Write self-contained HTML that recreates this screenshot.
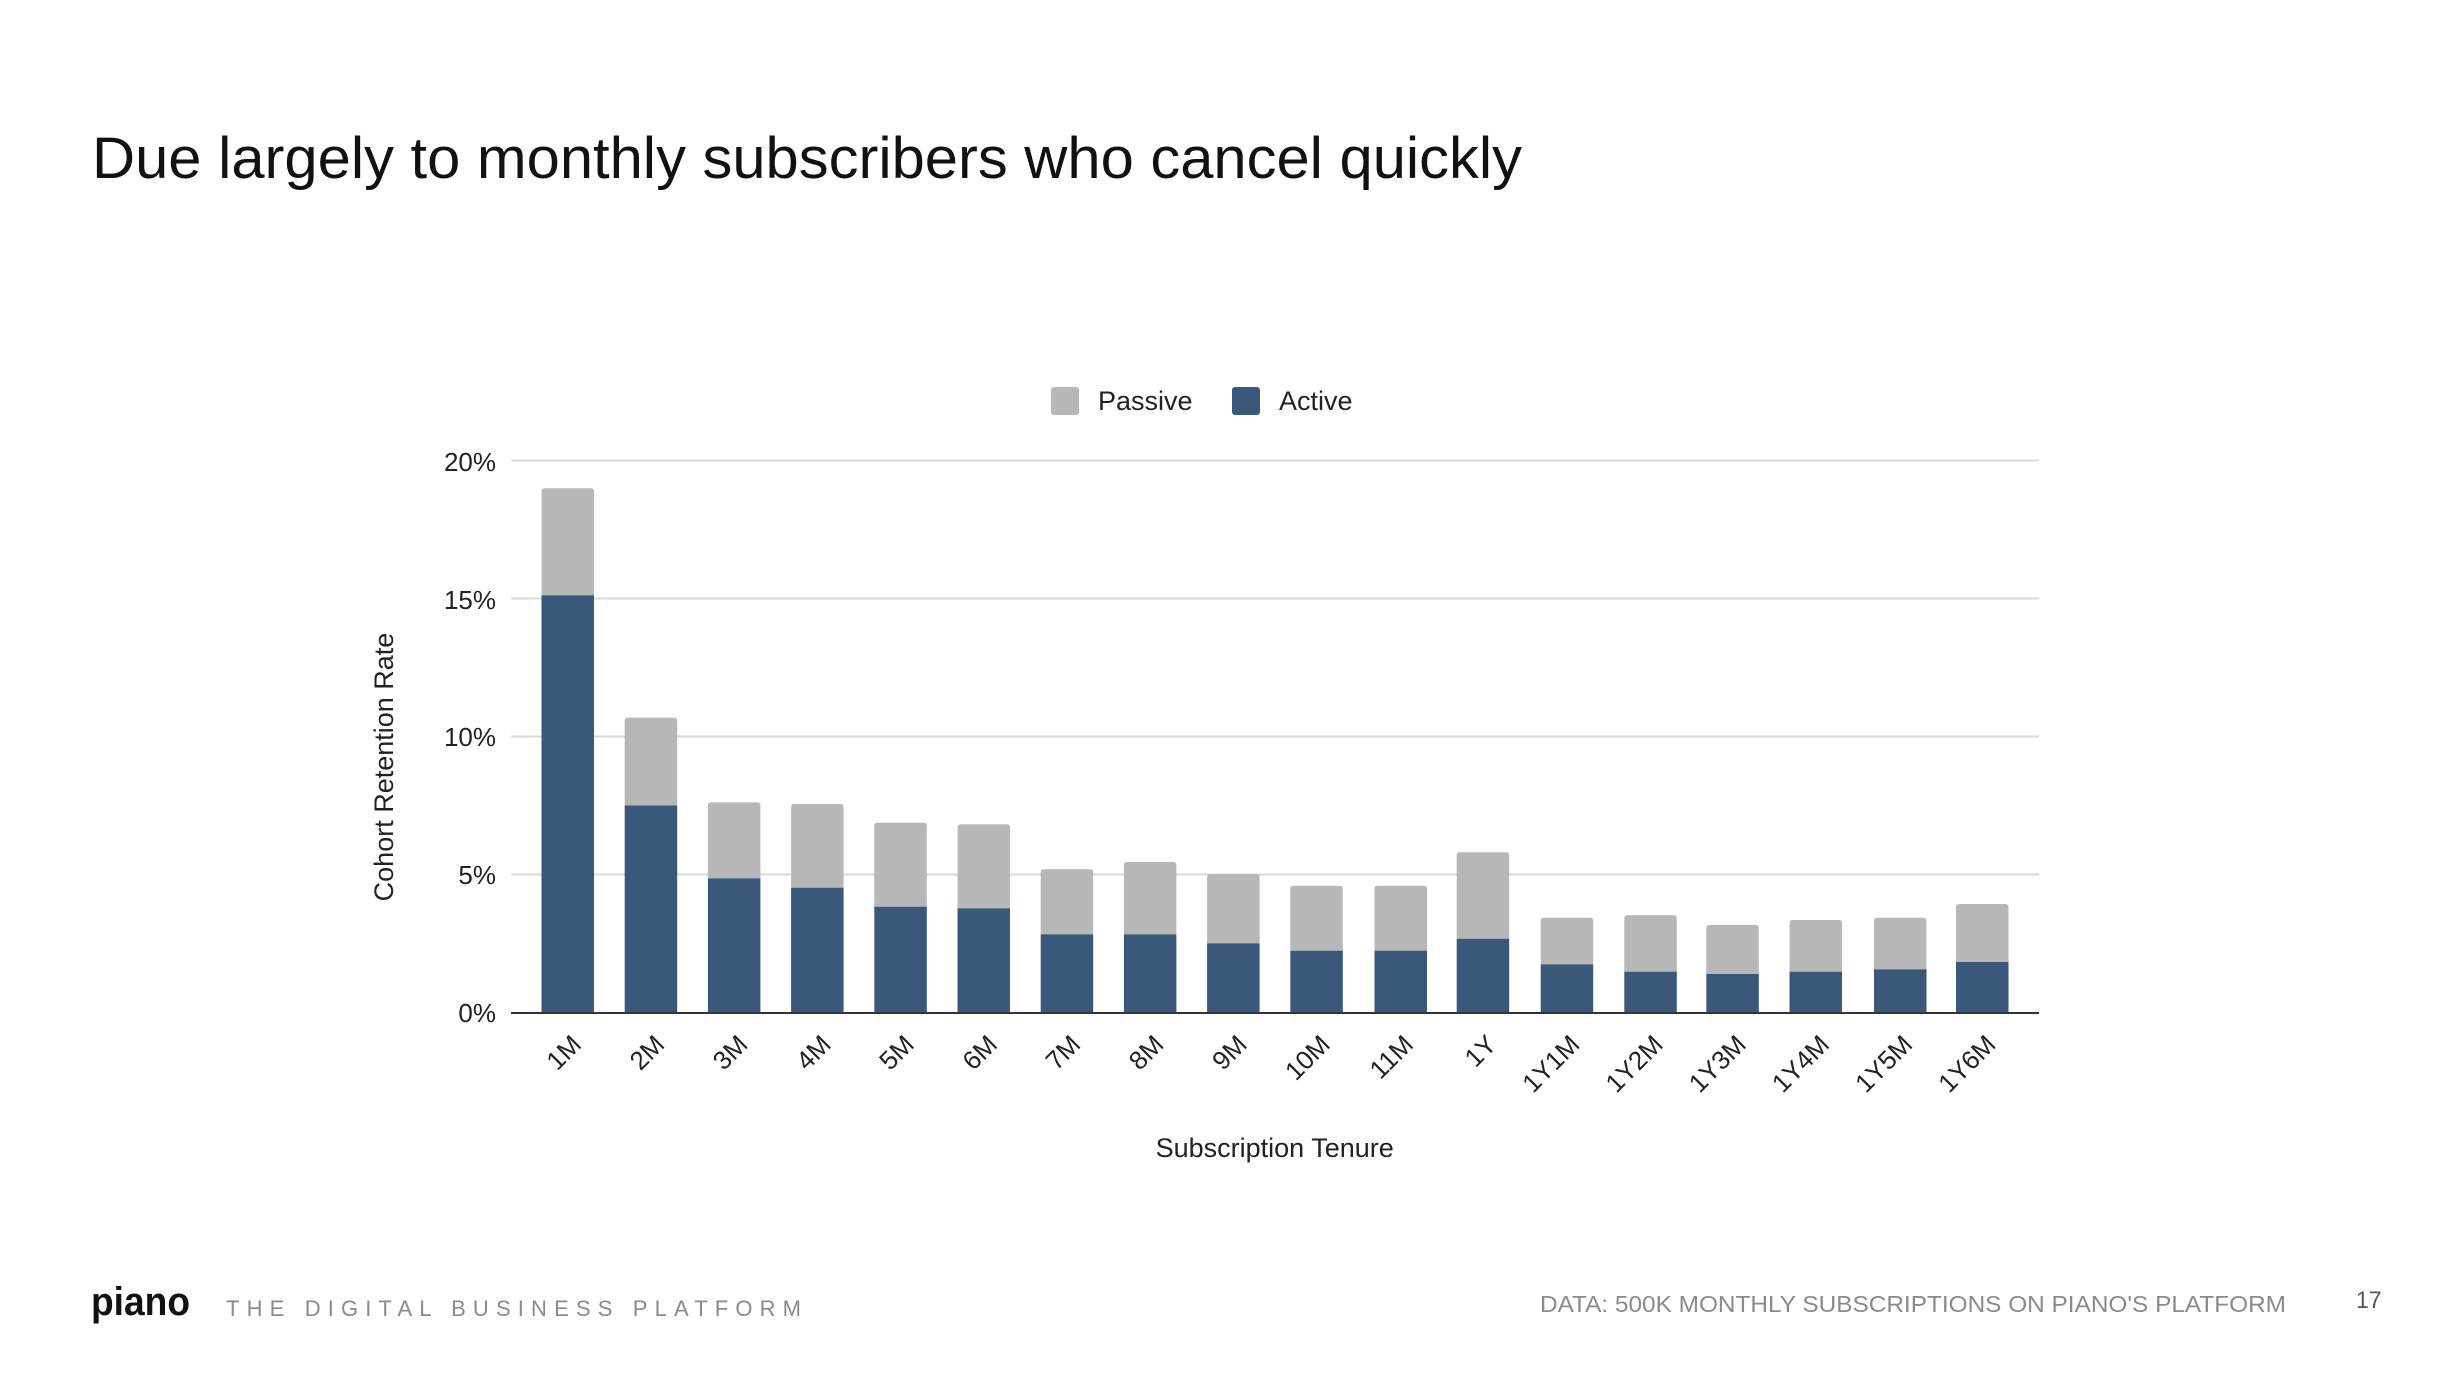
<!DOCTYPE html>
<html>
<head>
<meta charset="utf-8">
<style>
  html, body { margin: 0; padding: 0; background: #ffffff; }
  body { width: 2462px; height: 1378px; overflow: hidden; }
  svg { display: block; }
  text { font-family: "Liberation Sans", Arial, sans-serif; }
</style>
</head>
<body>
<svg width="2462" height="1378" viewBox="0 0 2462 1378" xmlns="http://www.w3.org/2000/svg">
  <rect x="0" y="0" width="2462" height="1378" fill="#ffffff"/>

  <!-- Title -->
  <text x="92" y="178" font-size="58" fill="#111111" textLength="1430" lengthAdjust="spacingAndGlyphs">Due largely to monthly subscribers who cancel quickly</text>

  <!-- Legend -->
  <rect x="1051" y="387" width="28" height="28" rx="3" fill="#b7b7b7"/>
  <text x="1098" y="410" font-size="27" fill="#222222">Passive</text>
  <rect x="1232" y="387" width="28" height="28" rx="3" fill="#3a5879"/>
  <text x="1279" y="410" font-size="27" fill="#222222">Active</text>

  <!-- Gridlines -->
  <g stroke="#d9d9d9" stroke-width="2">
    <line x1="511" y1="460.5" x2="2039" y2="460.5"/>
    <line x1="511" y1="598.5" x2="2039" y2="598.5"/>
    <line x1="511" y1="736.5" x2="2039" y2="736.5"/>
    <line x1="511" y1="874.5" x2="2039" y2="874.5"/>
  </g>

  <!-- Y tick labels -->
  <g font-size="26" fill="#222222" text-anchor="end">
    <text x="496" y="471">20%</text>
    <text x="496" y="609">15%</text>
    <text x="496" y="746">10%</text>
    <text x="496" y="884">5%</text>
    <text x="496" y="1022">0%</text>
  </g>

  <!-- Y axis title -->
  <text transform="translate(393,767) rotate(-90)" font-size="27" fill="#222222" text-anchor="middle">Cohort Retention Rate</text>

  <!-- Bars -->
  <g>
    <path d="M541.5,595.3 V491.3 Q541.5,488.3 544.5,488.3 H591 Q594,488.3 594,491.3 V595.3 Z" fill="#b7b7b7"/>
    <rect x="541.5" y="595.3" width="52.5" height="417.2" fill="#3a5879"/>

    <path d="M624.7,805.5 V720.6 Q624.7,717.6 627.7,717.6 H674.2 Q677.2,717.6 677.2,720.6 V805.5 Z" fill="#b7b7b7"/>
    <rect x="624.7" y="805.5" width="52.5" height="207" fill="#3a5879"/>

    <path d="M707.9,878.3 V805.4 Q707.9,802.4 710.9,802.4 H757.4 Q760.4,802.4 760.4,805.4 V878.3 Z" fill="#b7b7b7"/>
    <rect x="707.9" y="878.3" width="52.5" height="134.2" fill="#3a5879"/>

    <path d="M791.1,887.7 V807 Q791.1,804 794.1,804 H840.6 Q843.6,804 843.6,807 V887.7 Z" fill="#b7b7b7"/>
    <rect x="791.1" y="887.7" width="52.5" height="124.8" fill="#3a5879"/>

    <path d="M874.3,906.7 V825.8 Q874.3,822.8 877.3,822.8 H923.8 Q926.8,822.8 926.8,825.8 V906.7 Z" fill="#b7b7b7"/>
    <rect x="874.3" y="906.7" width="52.5" height="105.8" fill="#3a5879"/>

    <path d="M957.5,908.3 V827.4 Q957.5,824.4 960.5,824.4 H1007 Q1010,824.4 1010,827.4 V908.3 Z" fill="#b7b7b7"/>
    <rect x="957.5" y="908.3" width="52.5" height="104.2" fill="#3a5879"/>

    <path d="M1040.7,934.3 V872.3 Q1040.7,869.3 1043.7,869.3 H1090.2 Q1093.2,869.3 1093.2,872.3 V934.3 Z" fill="#b7b7b7"/>
    <rect x="1040.7" y="934.3" width="52.5" height="78.2" fill="#3a5879"/>

    <path d="M1123.9,934.3 V865 Q1123.9,862 1126.9,862 H1173.4 Q1176.4,862 1176.4,865 V934.3 Z" fill="#b7b7b7"/>
    <rect x="1123.9" y="934.3" width="52.5" height="78.2" fill="#3a5879"/>

    <path d="M1207.1,943.3 V877 Q1207.1,874 1210.1,874 H1256.6 Q1259.6,874 1259.6,877 V943.3 Z" fill="#b7b7b7"/>
    <rect x="1207.1" y="943.3" width="52.5" height="69.2" fill="#3a5879"/>

    <path d="M1290.3,950.7 V888.7 Q1290.3,885.7 1293.3,885.7 H1339.8 Q1342.8,885.7 1342.8,888.7 V950.7 Z" fill="#b7b7b7"/>
    <rect x="1290.3" y="950.7" width="52.5" height="61.8" fill="#3a5879"/>

    <path d="M1374.5,950.7 V888.7 Q1374.5,885.7 1377.5,885.7 H1424 Q1427,885.7 1427,888.7 V950.7 Z" fill="#b7b7b7"/>
    <rect x="1374.5" y="950.7" width="52.5" height="61.8" fill="#3a5879"/>

    <path d="M1456.7,938.7 V855.3 Q1456.7,852.3 1459.7,852.3 H1506.2 Q1509.2,852.3 1509.2,855.3 V938.7 Z" fill="#b7b7b7"/>
    <rect x="1456.7" y="938.7" width="52.5" height="73.8" fill="#3a5879"/>

    <path d="M1540.7,964.3 V920.7 Q1540.7,917.7 1543.7,917.7 H1590.2 Q1593.2,917.7 1593.2,920.7 V964.3 Z" fill="#b7b7b7"/>
    <rect x="1540.7" y="964.3" width="52.5" height="48.2" fill="#3a5879"/>

    <path d="M1624.3,971.7 V918.3 Q1624.3,915.3 1627.3,915.3 H1673.8 Q1676.8,915.3 1676.8,918.3 V971.7 Z" fill="#b7b7b7"/>
    <rect x="1624.3" y="971.7" width="52.5" height="40.8" fill="#3a5879"/>

    <path d="M1706.3,974 V928 Q1706.3,925 1709.3,925 H1755.8 Q1758.8,925 1758.8,928 V974 Z" fill="#b7b7b7"/>
    <rect x="1706.3" y="974" width="52.5" height="38.5" fill="#3a5879"/>

    <path d="M1789.5,971.7 V923 Q1789.5,920 1792.5,920 H1839 Q1842,920 1842,923 V971.7 Z" fill="#b7b7b7"/>
    <rect x="1789.5" y="971.7" width="52.5" height="40.8" fill="#3a5879"/>

    <path d="M1874,969.3 V920.7 Q1874,917.7 1877,917.7 H1923.5 Q1926.5,917.7 1926.5,920.7 V969.3 Z" fill="#b7b7b7"/>
    <rect x="1874" y="969.3" width="52.5" height="43.2" fill="#3a5879"/>

    <path d="M1956,962 V907 Q1956,904 1959,904 H2005.5 Q2008.5,904 2008.5,907 V962 Z" fill="#b7b7b7"/>
    <rect x="1956" y="962" width="52.5" height="50.5" fill="#3a5879"/>
  </g>

  <!-- Baseline axis -->
  <line x1="511" y1="1013" x2="2039" y2="1013" stroke="#333333" stroke-width="2"/>

  <!-- X tick labels (rotated -45) -->
  <g font-size="26" fill="#222222" text-anchor="end">
    <text transform="translate(582.8,1046) rotate(-45)">1M</text>
    <text transform="translate(666.0,1046) rotate(-45)">2M</text>
    <text transform="translate(749.2,1046) rotate(-45)">3M</text>
    <text transform="translate(832.4,1046) rotate(-45)">4M</text>
    <text transform="translate(915.6,1046) rotate(-45)">5M</text>
    <text transform="translate(998.8,1046) rotate(-45)">6M</text>
    <text transform="translate(1082.0,1046) rotate(-45)">7M</text>
    <text transform="translate(1165.2,1046) rotate(-45)">8M</text>
    <text transform="translate(1248.4,1046) rotate(-45)">9M</text>
    <text transform="translate(1331.6,1046) rotate(-45)">10M</text>
    <text transform="translate(1414.8,1046) rotate(-45)">11M</text>
    <text transform="translate(1498.0,1046) rotate(-45)">1Y</text>
    <text transform="translate(1581.2,1046) rotate(-45)">1Y1M</text>
    <text transform="translate(1664.4,1046) rotate(-45)">1Y2M</text>
    <text transform="translate(1747.6,1046) rotate(-45)">1Y3M</text>
    <text transform="translate(1830.8,1046) rotate(-45)">1Y4M</text>
    <text transform="translate(1914.0,1046) rotate(-45)">1Y5M</text>
    <text transform="translate(1997.2,1046) rotate(-45)">1Y6M</text>
  </g>

  <!-- X axis title -->
  <text x="1274.7" y="1157" font-size="27" fill="#222222" text-anchor="middle">Subscription Tenure</text>

  <!-- Footer -->
  <text x="91" y="1315" font-size="40" font-weight="bold" fill="#111111" textLength="99" lengthAdjust="spacingAndGlyphs">piano</text>
  <text x="226" y="1316" font-size="22" fill="#8a8a8a" textLength="575" lengthAdjust="spacing">THE DIGITAL BUSINESS PLATFORM</text>
  <text x="1540" y="1312" font-size="23" fill="#8a8a8a" textLength="746" lengthAdjust="spacingAndGlyphs">DATA: 500K MONTHLY SUBSCRIPTIONS ON PIANO'S PLATFORM</text>
  <text x="2356" y="1308" font-size="24" fill="#555555" textLength="25.5" lengthAdjust="spacingAndGlyphs">17</text>
</svg>
</body>
</html>
